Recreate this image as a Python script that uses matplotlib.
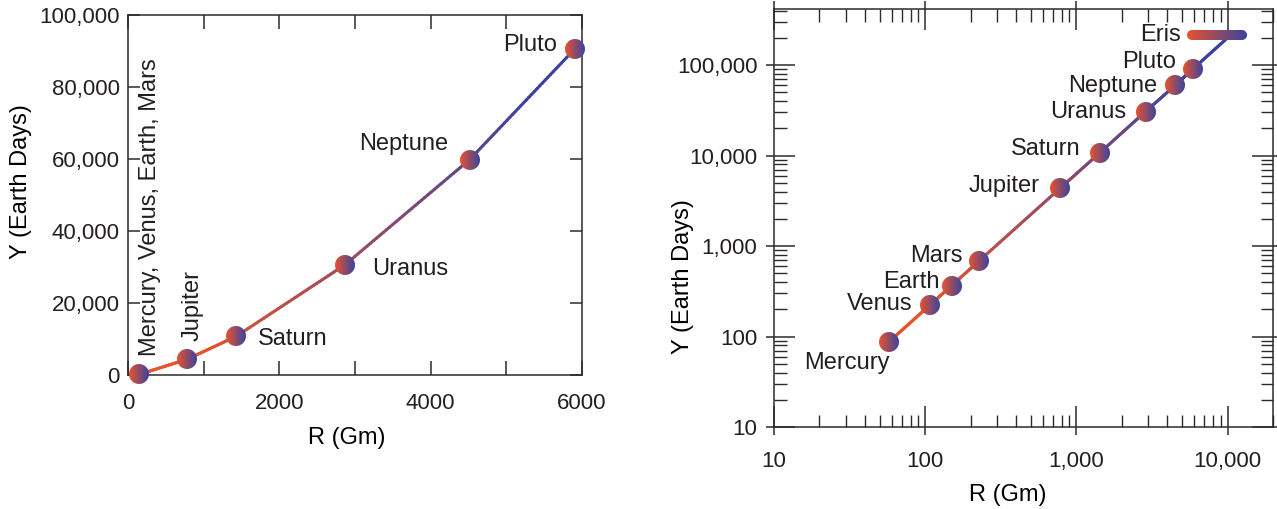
import numpy as np
import matplotlib
matplotlib.use("Agg")
import matplotlib.pyplot as plt
from matplotlib.collections import LineCollection
from matplotlib.colors import LinearSegmentedColormap, to_rgb
from matplotlib.offsetbox import OffsetImage, AnnotationBbox
from matplotlib.ticker import FixedLocator, NullLocator, LogLocator

# style
plt.rcParams.update({
    "font.family": ["Liberation Sans", "DejaVu Sans"],
    "font.size": 17,
    "text.color": "#231f20",
    "axes.edgecolor": "#2b2b2b",
    "axes.linewidth": 1.1,
    "xtick.color": "#2b2b2b",
    "ytick.color": "#2b2b2b",
    "xtick.labelcolor": "#231f20",
    "ytick.labelcolor": "#231f20",
    "xtick.labelsize": 16,
    "ytick.labelsize": 16,
})

# data: orbital radius (Gm) and period (Earth days)
planets = ["Mercury", "Venus", "Earth", "Mars", "Jupiter",
           "Saturn", "Uranus", "Neptune", "Pluto"]
radius_gm = [57.9, 108.2, 149.6, 227.9, 778.5, 1432, 2867, 4515, 5906]
period_days = [88, 224.7, 365.25, 687, 4331, 10747, 30589, 59800, 90560]
eris_radius_gm = 10125
eris_period_days = 203830

# the linear panel shows one dot for the four inner planets
lin_dot_planets = ["Earth", "Jupiter", "Saturn", "Uranus", "Neptune", "Pluto"]

lin_xticks = [0, 1000, 2000, 3000, 4000, 5000, 6000]
lin_xlabels = ["0", "", "2000", "", "4000", "", "6000"]
lin_yticks = [0, 20000, 40000, 60000, 80000, 100000]
lin_ylabels = ["0", "20,000", "40,000", "60,000", "80,000", "100,000"]
log_xticks = [10, 100, 1000, 10000]
log_xlabels = ["10", "100", "1,000", "10,000"]
log_yticks = [10, 100, 1000, 10000, 100000]
log_ylabels = ["10", "100", "1,000", "10,000", "100,000"]

ORANGE = "#e8532d"
BLUE = "#3a44a0"
cmap = LinearSegmentedColormap.from_list(
    "ob", [(0, ORANGE), (0.12, ORANGE), (0.88, BLUE), (1, BLUE)])


def gradient_line(ax, xs, ys, lw=2.2, n=40):
    # straight segments between points, coloured along their length
    disp = ax.transData.transform(np.column_stack([xs, ys]))
    pts = []
    for a, b in zip(disp[:-1], disp[1:]):
        t = np.linspace(0, 1, n)[:-1, None]
        pts.append(a + (b - a) * t)
    pts.append(disp[-1:])
    pts = np.vstack(pts)
    seglen = np.hypot(*np.diff(pts, axis=0).T)
    s = np.concatenate([[0], np.cumsum(seglen)])
    frac = (s[:-1] + s[1:]) / 2 / s[-1]
    axpts = ax.transAxes.inverted().transform(pts)
    segs = np.stack([axpts[:-1], axpts[1:]], axis=1)
    lc = LineCollection(segs, colors=cmap(frac), linewidths=lw,
                        transform=ax.transAxes, zorder=2, capstyle="round")
    ax.add_collection(lc)


def gradient_shape(w, h):
    # capsule (circle when w == h) with a left-to-right orange->blue fill
    yy, xx = np.mgrid[0:h, 0:w] + 0.5
    r = h / 2
    cx = np.clip(xx, r, w - r)
    dist = np.hypot(xx - cx, yy - r)
    alpha = np.clip(r - dist + 0.5, 0, 1)
    t = (xx / w)[..., None]
    rgb = (1 - t) * np.array(to_rgb(ORANGE)) + t * np.array(to_rgb(BLUE))
    return np.dstack([rgb, alpha])


DOT = gradient_shape(40, 40)
PILL = gradient_shape(120, 20)
ZOOM = 0.5 * 72 / 100


def put_image(ax, img, x, y, align=(0.5, 0.5)):
    ab = AnnotationBbox(OffsetImage(img, zoom=ZOOM), (x, y), frameon=False,
                        pad=0, box_alignment=align, zorder=4)
    ax.add_artist(ab)


fig = plt.figure(figsize=(12.77, 5.09), dpi=100)

# ---- left: linear ----
ax1 = fig.add_axes([0.1002, 0.2633, 0.3555, 0.7073])
ax1.set_xlim(0, 6000)
ax1.set_ylim(0, 100000)
ax1.set_xticks(lin_xticks, lin_xlabels)
ax1.set_yticks(lin_yticks, lin_ylabels)
ax1.tick_params(axis="x", direction="in", length=10, width=1.1, pad=13,
                top=True)
ax1.tick_params(axis="y", direction="in", length=8.5, width=1.1, pad=6,
                right=True)
ax1.set_xlabel("R (Gm)")
ax1.set_ylabel("Y (Earth Days)")
ax1.xaxis.set_label_coords(0.483, -0.144)
ax1.yaxis.set_label_coords(-0.211, 0.536)

gradient_line(ax1, radius_gm, period_days)
for name in lin_dot_planets:
    i = planets.index(name)
    put_image(ax1, DOT, radius_gm[i], period_days[i])

lin_notes = [
    ("Mercury, Venus, Earth, Mars", 2, (7.7, 12.7), "center", "bottom", 90),
    ("Jupiter", 4, (4.3, 13), "center", "bottom", 90),
    ("Saturn", 5, (15.5, -2), "left", "center", 0),
    ("Uranus", 6, (19.4, -3), "left", "center", 0),
    ("Neptune", 7, (-15, 11.3), "right", "center", 0),
    ("Pluto", 8, (-13, 3), "right", "center", 0),
]
for text, i, off, ha, va, rot in lin_notes:
    ax1.annotate(text, (radius_gm[i], period_days[i]), xytext=off,
                 textcoords="offset points", ha=ha, va=va, rotation=rot)

# ---- right: log-log ----
rect2 = [0.6061, 0.1611, 0.3908, 0.8212]
ax2 = fig.add_axes(rect2)
ax2.set_xscale("log")
ax2.set_yscale("log")
ax2.set_xlim(10, 20000)
ax2.set_ylim(10, 416000)
ax2.xaxis.set_major_locator(FixedLocator(log_xticks))
ax2.yaxis.set_major_locator(FixedLocator(log_yticks))
ax2.set_xticklabels(log_xlabels)
ax2.set_yticklabels(log_ylabels)
ax2.xaxis.set_minor_locator(LogLocator(base=10, subs=np.arange(2, 10)))
ax2.yaxis.set_minor_locator(LogLocator(base=10, subs=np.arange(2, 10)))
ax2.tick_params(which="major", direction="in", length=15, width=1.1,
                top=True, right=True)
ax2.tick_params(which="minor", direction="in", length=9, width=1.0,
                top=True, right=True)
ax2.tick_params(axis="x", which="major", pad=17)
ax2.tick_params(axis="y", which="major", pad=12)
ax2.set_xlabel("R (Gm)")
ax2.set_ylabel("Y (Earth Days)")
ax2.xaxis.set_label_coords(0.469, -0.136)
ax2.yaxis.set_label_coords(-0.160, 0.359)

# outward stubs of the major ticks
stub = fig.add_axes(rect2)
stub.set_xscale("log")
stub.set_yscale("log")
stub.set_xlim(ax2.get_xlim())
stub.set_ylim(ax2.get_ylim())
stub.patch.set_visible(False)
for sp in stub.spines.values():
    sp.set_visible(False)
stub.xaxis.set_major_locator(FixedLocator(log_xticks))
stub.yaxis.set_major_locator(FixedLocator(log_yticks))
stub.xaxis.set_minor_locator(NullLocator())
stub.yaxis.set_minor_locator(NullLocator())
stub.tick_params(which="major", direction="out", length=6, width=1.1,
                 top=True, right=True, labelbottom=False, labelleft=False)

xs_log = radius_gm + [eris_radius_gm]
ys_log = period_days + [eris_period_days]
gradient_line(ax2, xs_log, ys_log)
for x, y in zip(radius_gm, period_days):
    put_image(ax2, DOT, x, y)
put_image(ax2, PILL, eris_radius_gm, eris_period_days, align=(0.69, 0.25))

log_notes = [
    ("Mercury", 0, (-30.2, -15.5), "center"),
    ("Venus", 1, (-12.6, 0.5), "right"),
    ("Earth", 2, (-8.5, 2.6), "right"),
    ("Mars", 3, (-11.8, 3.5), "right"),
    ("Jupiter", 4, (-14.4, 1.7), "right"),
    ("Saturn", 5, (-13.7, 2.7), "right"),
    ("Uranus", 6, (-13.7, -0.3), "right"),
    ("Neptune", 7, (-12.7, -0.6), "right"),
    ("Pluto", 8, (-12.2, 5), "right"),
]
for text, i, off, ha in log_notes:
    ax2.annotate(text, (radius_gm[i], period_days[i]), xytext=off,
                 textcoords="offset points", ha=ha, va="center")
ax2.annotate("Eris", (eris_radius_gm, eris_period_days), xytext=(-34.3, 1.4),
             textcoords="offset points", ha="right", va="center")

fig.savefig("out.png", dpi=100)
